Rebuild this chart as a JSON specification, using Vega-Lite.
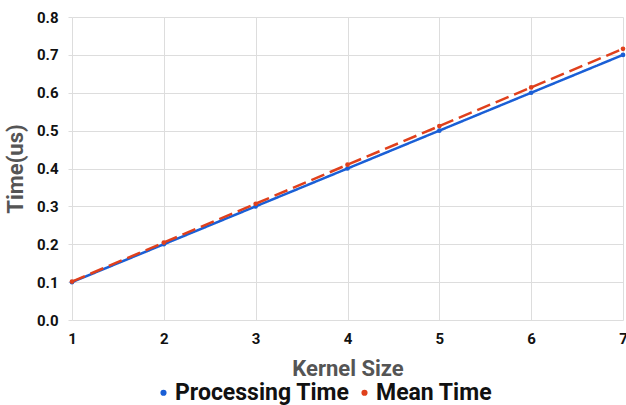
{
  "$schema": "https://vega.github.io/schema/vega-lite/v6.json",
  "width": 551,
  "height": 303,
  "autosize": {"type": "none"},
  "padding": {"left": 72, "top": 17, "right": 3, "bottom": 85},
  "background": "white",
  "config": {
    "font": "Roboto",
    "view": {"stroke": null}
  },
  "data": {
    "values": [
      {"k": 1, "series": "Processing Time", "t": 0.1},
      {"k": 2, "series": "Processing Time", "t": 0.2},
      {"k": 3, "series": "Processing Time", "t": 0.3},
      {"k": 4, "series": "Processing Time", "t": 0.4},
      {"k": 5, "series": "Processing Time", "t": 0.5},
      {"k": 6, "series": "Processing Time", "t": 0.6},
      {"k": 7, "series": "Processing Time", "t": 0.7},
      {"k": 1, "series": "Mean Time", "t": 0.1015},
      {"k": 2, "series": "Mean Time", "t": 0.2045},
      {"k": 3, "series": "Mean Time", "t": 0.307},
      {"k": 4, "series": "Mean Time", "t": 0.41},
      {"k": 5, "series": "Mean Time", "t": 0.512},
      {"k": 6, "series": "Mean Time", "t": 0.614},
      {"k": 7, "series": "Mean Time", "t": 0.716}
    ]
  },
  "mark": {"type": "line", "strokeWidth": 2.5, "point": {"filled": true, "size": 22}},
  "encoding": {
    "x": {
      "field": "k", "type": "quantitative",
      "scale": {"domain": [1, 7], "nice": false, "zero": false},
      "axis": {
        "title": "Kernel Size", "values": [1, 2, 3, 4, 5, 6, 7], "format": "d",
        "labelFont": "Roboto", "labelFontSize": 15, "labelFontWeight": "bold", "labelColor": "#111",
        "labelPadding": 11, "labelFlush": false,
        "titleFont": "Roboto", "titleFontSize": 22, "titleFontWeight": "bold", "titleColor": "#555",
        "titlePadding": 12,
        "domain": false, "ticks": false,
        "grid": true, "gridColor": "#dddddd", "gridWidth": 1
      }
    },
    "y": {
      "field": "t", "type": "quantitative",
      "scale": {"domain": [0, 0.8], "nice": false},
      "axis": {
        "title": "Time(us)", "values": [0, 0.1, 0.2, 0.3, 0.4, 0.5, 0.6, 0.7, 0.8], "format": ".1f",
        "labelFont": "Roboto", "labelFontSize": 15, "labelFontWeight": "bold", "labelColor": "#111",
        "labelPadding": 10,
        "titleFont": "Roboto", "titleFontSize": 22, "titleFontWeight": "bold", "titleColor": "#555",
        "titlePadding": 9,
        "domain": false, "ticks": true, "tickColor": "#dddddd", "tickSize": 4,
        "grid": true, "gridColor": "#dddddd", "gridWidth": 1
      }
    },
    "color": {
      "field": "series", "type": "nominal",
      "sort": ["Processing Time", "Mean Time"],
      "scale": {"domain": ["Processing Time", "Mean Time"], "range": ["#1a5fd6", "#e0401c"]},
      "legend": {
        "title": null, "orient": "none", "direction": "horizontal",
        "legendX": 80, "legendY": 364,
        "labelFont": "Roboto", "labelFontSize": 23, "labelFontWeight": "bold", "labelColor": "#111",
        "labelLimit": 400,
        "symbolType": "circle", "symbolSize": 38, "symbolStrokeWidth": 0,
        "labelOffset": 0, "columnPadding": 3, "padding": 0
      }
    },
    "strokeDash": {
      "field": "series", "type": "nominal",
      "scale": {"domain": ["Processing Time", "Mean Time"], "range": [[1, 0], [14, 6]]},
      "legend": null
    }
  }
}
